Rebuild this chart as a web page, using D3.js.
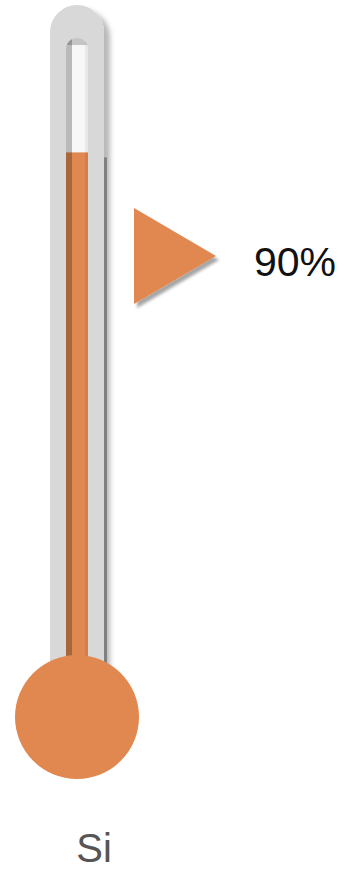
<!DOCTYPE html>
<html>
<head>
<meta charset="utf-8">
<script src="https://cdn.jsdelivr.net/npm/d3@7/dist/d3.min.js"></script>
<style>
  html, body { margin: 0; padding: 0; background: #ffffff; }
  svg { display: block; }
</style>
</head>
<body>
<div id="chart"></div>
<script>
// Thermometer gauge: one category, one percentage value
const categories = ["Si"];
const values = [90];
const valueLabels = ["90%"];
const scaleDomain = [0, 100];

const W = 344, H = 870;
const colors = { fill: "#e0884f", tube: "#d8d8d8", glass: "#f7f7f7", line: "#808080" };

const svg = d3.select("#chart").append("svg")
  .attr("width", W).attr("height", H);

const defs = svg.append("defs");
defs.append("filter").attr("id", "tubeShadow")
  .attr("x", "-30%").attr("y", "-10%").attr("width", "160%").attr("height", "120%")
  .append("feDropShadow")
  .attr("dx", 6).attr("dy", 5).attr("stdDeviation", 2.5)
  .attr("flood-color", "#000").attr("flood-opacity", 0.28);
defs.append("filter").attr("id", "markShadow")
  .attr("x", "-30%").attr("y", "-30%").attr("width", "160%").attr("height", "160%")
  .append("feDropShadow")
  .attr("dx", 3).attr("dy", 4).attr("stdDeviation", 1.8)
  .attr("flood-color", "#000").attr("flood-opacity", 0.35);

// geometry of the instrument
const cx = 77;
const bulbR = 62, bulbCy = 717;
const outerW = 54, outerTop = 5;
const innerW = 22, innerTop = 38;

// value scale along the stem
const y = d3.scaleLinear().domain(scaleDomain).range([660, 96]);

const g = svg.append("g");

// outer stem
g.append("rect")
  .attr("x", cx - outerW / 2).attr("y", outerTop)
  .attr("width", outerW).attr("height", bulbCy - outerTop)
  .attr("rx", outerW / 2).attr("ry", outerW / 2)
  .attr("fill", colors.tube)
  .attr("filter", "url(#tubeShadow)");

// glass bore
defs.append("clipPath").attr("id", "bore")
  .append("rect")
  .attr("x", cx - innerW / 2).attr("y", innerTop)
  .attr("width", innerW).attr("height", bulbCy - innerTop)
  .attr("rx", innerW / 2).attr("ry", innerW / 2);

const bore = g.append("g").attr("clip-path", "url(#bore)");
bore.append("rect")
  .attr("x", cx - innerW / 2).attr("y", innerTop)
  .attr("width", innerW).attr("height", bulbCy - innerTop)
  .attr("fill", colors.glass);

// column of liquid up to the value
bore.selectAll("rect.level").data(values).join("rect")
  .attr("class", "level")
  .attr("x", cx - innerW / 2)
  .attr("y", d => y(d))
  .attr("width", innerW)
  .attr("height", d => bulbCy - y(d))
  .attr("fill", colors.fill);

// inner shading of the bore (top and left edge, faint right edge)
bore.append("rect")
  .attr("x", cx - innerW / 2).attr("y", innerTop)
  .attr("width", 6).attr("height", bulbCy - innerTop)
  .attr("fill", "#000").attr("opacity", 0.25);
bore.append("rect")
  .attr("x", cx - innerW / 2).attr("y", innerTop)
  .attr("width", innerW).attr("height", 7)
  .attr("fill", "#000").attr("opacity", 0.2);
bore.append("rect")
  .attr("x", cx + innerW / 2 - 3).attr("y", innerTop)
  .attr("width", 3).attr("height", bulbCy - innerTop)
  .attr("fill", "#000").attr("opacity", 0.06);

// edge line along the stem, starting just below the level
g.selectAll("rect.edge").data(values).join("rect")
  .attr("class", "edge")
  .attr("x", cx + outerW / 2).attr("y", d => y(d) + 5)
  .attr("width", 3).attr("height", d => bulbCy - y(d) - 5)
  .attr("fill", colors.line);

// bulb
g.append("circle")
  .attr("cx", cx).attr("cy", bulbCy).attr("r", bulbR)
  .attr("fill", colors.fill);

// pointer with the value label
const ptr = { left: 134, tip: 216, cy: 256, half: 48 };
svg.append("path")
  .attr("d", d3.line()([[ptr.left, ptr.cy - ptr.half], [ptr.tip, ptr.cy], [ptr.left, ptr.cy + ptr.half]]) + "Z")
  .attr("fill", colors.fill)
  .attr("filter", "url(#markShadow)");

svg.selectAll("text.value").data(valueLabels).join("text")
  .attr("class", "value")
  .attr("x", 254).attr("y", 276)
  .attr("font-family", "Liberation Sans, Arial, sans-serif")
  .attr("font-size", 41)
  .attr("fill", "#111")
  .text(d => d);

// category label
svg.selectAll("text.cat").data(categories).join("text")
  .attr("class", "cat")
  .attr("x", 94).attr("y", 862)
  .attr("text-anchor", "middle")
  .attr("font-family", "Liberation Sans, Arial, sans-serif")
  .attr("font-size", 40)
  .attr("fill", "#555")
  .text(d => d);
</script>
</body>
</html>
